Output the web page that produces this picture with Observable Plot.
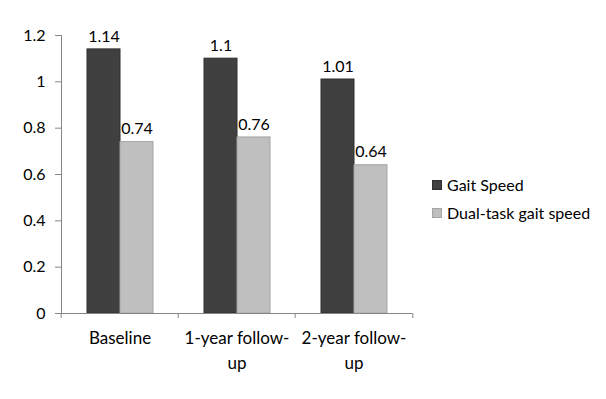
<!DOCTYPE html>
<html>
<head>
<meta charset="utf-8">
<script src="https://cdn.jsdelivr.net/npm/d3@7"></script>
<script src="https://cdn.jsdelivr.net/npm/@observablehq/plot@0.6"></script>
<style>
  html, body { margin: 0; padding: 0; background: #fff; }
  #wrap { position: relative; width: 606px; height: 399px; font-family: Lato, "Open Sans", sans-serif; }
  #legend { position: absolute; left: 432px; top: 175px; font-size: 16px; color: #000; }
  .item { display: flex; align-items: center; height: 19px; margin-bottom: 9px; }
  .sw { width: 10px; height: 10px; margin-right: 5px; box-sizing: border-box; }
</style>
</head>
<body>
<div id="wrap"></div>
<script>
const categories = ["Baseline", "1-year follow-up", "2-year follow-up"];
const categoryLabels = ["Baseline", "1-year follow-\nup", "2-year follow-\nup"];
const series = ["Gait Speed", "Dual-task gait speed"];
const gaitSpeed = [1.14, 1.1, 1.01];
const dualTaskGaitSpeed = [0.74, 0.76, 0.64];
const yTicks = [0, 0.2, 0.4, 0.6, 0.8, 1, 1.2];

const fills = ["#404040", "#bfbfbf"];
const strokes = ["#2e2e2e", "#a5a5a5"];

const gaitData = categories.map((c, i) => ({cat: c, series: series[0], value: gaitSpeed[i]}));
const dualData = categories.map((c, i) => ({cat: c, series: series[1], value: dualTaskGaitSpeed[i]}));
const allData = gaitData.concat(dualData);

const W = 606, H = 399, ML = 60, MR = 193, MT = 35, MB = 86;
const bw = (W - ML - MR) / categories.length;
const axisColor = "#868686";

const chart = Plot.plot({
  width: W, height: H,
  marginLeft: ML, marginRight: MR, marginTop: MT, marginBottom: MB,
  style: {fontFamily: "Lato, 'Open Sans', sans-serif", fontSize: "16px", color: "#000", background: "transparent", overflow: "visible"},
  fx: {domain: categories, padding: 0, axis: null, label: null},
  x: {domain: series, paddingInner: 0, paddingOuter: 0.73, axis: null, label: null},
  y: {domain: [0, 1.2], axis: null, label: null},
  marks: [
    Plot.barY(gaitData, {fx: "cat", x: "series", y: "value", fill: fills[0], stroke: strokes[0], strokeWidth: 1}),
    Plot.barY(dualData, {fx: "cat", x: "series", y: "value", fill: fills[1], stroke: strokes[1], strokeWidth: 1}),
    Plot.text(allData, {fx: "cat", x: "series", y: "value", text: d => String(d.value), dy: -13, lineAnchor: "middle", fill: "#000", fontSize: 16}),
    Plot.ruleY([0], {stroke: axisColor}),
    Plot.frame({anchor: "left", stroke: axisColor, facetAnchor: "left"}),
    Plot.axisY({ticks: yTicks, tickSize: 6, tickPadding: 10, tickFormat: d => String(d), stroke: axisColor, fill: "#000", fontSize: 16, label: null}),
    Plot.axisFx({anchor: "bottom", tickSize: 0, tickPadding: 13, tickFormat: d => categoryLabels[categories.indexOf(d)], lineHeight: 1.45, fill: "#000", fontSize: 17, label: null}),
    Plot.axisFx({anchor: "bottom", tickSize: 5, fill: "none", stroke: axisColor, dx: -bw / 2, label: null}),
    Plot.axisFx({anchor: "bottom", ticks: categories.slice(-1), tickSize: 5, fill: "none", stroke: axisColor, dx: bw / 2, label: null})
  ]
});

const wrap = document.getElementById("wrap");
wrap.appendChild(chart);
const legend = document.createElement("div");
legend.id = "legend";
series.forEach((s, i) => {
  const item = document.createElement("div");
  item.className = "item";
  const sw = document.createElement("span");
  sw.className = "sw";
  sw.style.background = fills[i];
  sw.style.border = "1px solid " + strokes[i];
  const t = document.createElement("span");
  t.textContent = s;
  item.appendChild(sw);
  item.appendChild(t);
  legend.appendChild(item);
});
wrap.appendChild(legend);
</script>
</body>
</html>
